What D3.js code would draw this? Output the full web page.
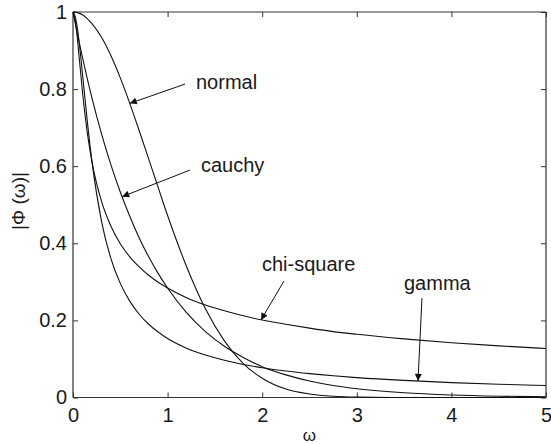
<!DOCTYPE html>
<html>
<head>
<meta charset="utf-8">
<script src="https://cdn.jsdelivr.net/npm/d3@7"></script>
<style>
  html, body { margin: 0; padding: 0; background: #fff; }
  svg { display: block; }
  text { font-family: "Liberation Sans", Arial, Helvetica, sans-serif; fill: #1a1a1a; }
</style>
</head>
<body>
<svg id="chart" width="551" height="444"></svg>
<script>
// Frequency grid ω
const omega = [0, 0.025, 0.05, 0.1, 0.15, 0.2, 0.3, 0.4, 0.5, 0.6, 0.7, 0.8, 0.9, 1.0,
               1.2, 1.4, 1.6, 1.8, 2.0, 2.25, 2.5, 2.75, 3.0, 3.5, 4.0, 4.5, 5.0];

// |Φ(ω)| for each distribution, sampled on the grid above
const normal    = [1, 1.000, 0.998, 0.993, 0.983, 0.970, 0.935, 0.887, 0.829, 0.763, 0.692, 0.619, 0.545, 0.472,
                   0.340, 0.230, 0.147, 0.088, 0.050, 0.022, 0.0092, 0.0034, 0.0012, 0.0001, 0, 0, 0];
const cauchy    = [1, 0.969, 0.939, 0.882, 0.828, 0.777, 0.685, 0.604, 0.533, 0.470, 0.414, 0.365, 0.322, 0.284,
                   0.220, 0.171, 0.133, 0.104, 0.080, 0.0587, 0.0429, 0.0313, 0.0228, 0.0122, 0.0065, 0.0034, 0.0018];
const chiSquare = [1, 0.977, 0.922, 0.793, 0.689, 0.612, 0.510, 0.445, 0.399, 0.365, 0.339, 0.317, 0.299, 0.284,
                   0.259, 0.240, 0.225, 0.212, 0.201, 0.190, 0.180, 0.171, 0.164, 0.152, 0.142, 0.134, 0.127];
const gamma     = [1, 0.987, 0.952, 0.840, 0.719, 0.613, 0.459, 0.361, 0.296, 0.250, 0.216, 0.190, 0.170, 0.153,
                   0.128, 0.110, 0.0964, 0.0858, 0.0773, 0.0687, 0.0619, 0.0563, 0.0516, 0.0443, 0.0387, 0.0344, 0.0310];

const xTicks = [0, 1, 2, 3, 4, 5];
const xTickLabels = ["0", "1", "2", "3", "4", "5"];
const yTicks = [0, 0.2, 0.4, 0.6, 0.8, 1];
const yTickLabels = ["0", "0.2", "0.4", "0.6", "0.8", "1"];

// Callout labels: text anchor, arrow tail and arrow tip, in (ω, |Φ|) units
const labelNames = ["normal", "cauchy", "chi-square", "gamma"];
const labelAt    = [[1.30, 0.80], [1.353, 0.585], [1.998, 0.328], [3.499, 0.279]];
const arrowFrom  = [[1.184, 0.813], [1.237, 0.590], [2.230, 0.302], [3.689, 0.258]];
const arrowTo    = [[0.60, 0.763], [0.52, 0.521], [1.987, 0.201], [3.647, 0.043]];

const svg = d3.select("#chart");
const W = 551, H = 444;
const plotL = 73, plotR = 546, plotT = 12, plotB = 397.5;

svg.append("rect").attr("width", W).attr("height", H).attr("fill", "#fff");

const x = d3.scaleLinear().domain([0, 5]).range([plotL, plotR]);
const y = d3.scaleLinear().domain([0, 1]).range([plotB, plotT]);

const axisColor = "#333";
const fontSize = 20;

// Axes with inward ticks on all four sides (boxed frame)
const tickLen = 5;
const bottomAxis = d3.axisBottom(x).tickValues(xTicks).tickSize(-tickLen).tickPadding(10)
  .tickFormat((d, i) => xTickLabels[i]);
const leftAxis = d3.axisLeft(y).tickValues(yTicks).tickSize(-tickLen).tickPadding(6)
  .tickFormat((d, i) => yTickLabels[i]);
const topAxis = d3.axisTop(x).tickValues(xTicks).tickSize(-tickLen).tickFormat("");
const rightAxis = d3.axisRight(y).tickValues(yTicks).tickSize(-tickLen).tickFormat("");

function styleAxis(g) {
  g.selectAll("path.domain").attr("stroke", axisColor).attr("stroke-width", 1.2);
  g.selectAll(".tick line").attr("stroke", axisColor).attr("stroke-width", 1);
  g.selectAll(".tick text").attr("font-size", fontSize)
    .attr("font-family", "'Liberation Sans', Arial, sans-serif").attr("fill", "#1a1a1a");
}

svg.append("g").attr("transform", `translate(0,${plotB})`).call(bottomAxis).call(styleAxis)
  .call(g => g.selectAll("path.domain").attr("d", `M${plotL},0H${plotR}`));
svg.append("g").attr("transform", `translate(${plotL},0)`).call(leftAxis).call(styleAxis)
  .call(g => g.selectAll("path.domain").attr("d", `M0,${plotB}V${plotT}`));
svg.append("g").attr("transform", `translate(0,${plotT})`).call(topAxis).call(styleAxis)
  .call(g => g.selectAll("path.domain").attr("d", `M${plotL},0H${plotR}`));
svg.append("g").attr("transform", `translate(${plotR},0)`).call(rightAxis).call(styleAxis)
  .call(g => g.selectAll("path.domain").attr("d", `M0,${plotB}V${plotT}`));

// Curves
const series = [normal, cauchy, chiSquare, gamma];
const line = d3.line()
  .x(d => x(d[0]))
  .y(d => y(d[1]))
  .curve(d3.curveMonotoneX);

const plot = svg.append("g");
series.forEach(vals => {
  plot.append("path")
    .datum(omega.map((w, i) => [w, vals[i]]))
    .attr("d", line)
    .attr("fill", "none")
    .attr("stroke", "#111")
    .attr("stroke-width", 1.1);
});

// Arrowhead
svg.append("defs").append("marker")
  .attr("id", "arrowhead")
  .attr("viewBox", "0 0 10 10")
  .attr("refX", 10).attr("refY", 5)
  .attr("markerWidth", 11).attr("markerHeight", 7)
  .attr("markerUnits", "userSpaceOnUse")
  .attr("orient", "auto")
  .append("path")
  .attr("d", "M0,0L10,5L0,10Z")
  .attr("fill", "#111");

// Callouts
labelNames.forEach((name, i) => {
  svg.append("line")
    .attr("x1", x(arrowFrom[i][0])).attr("y1", y(arrowFrom[i][1]))
    .attr("x2", x(arrowTo[i][0])).attr("y2", y(arrowTo[i][1]))
    .attr("stroke", "#111").attr("stroke-width", 1)
    .attr("marker-end", "url(#arrowhead)");
  svg.append("text")
    .attr("x", x(labelAt[i][0])).attr("y", y(labelAt[i][1]))
    .attr("font-size", fontSize)
    .text(name);
});

// Axis titles
svg.append("text")
  .attr("transform", "translate(25,201) rotate(-90)")
  .attr("text-anchor", "middle")
  .attr("font-size", 19)
  .text("|Φ (ω)|");

svg.append("text")
  .attr("x", x(2.5)).attr("y", 441)
  .attr("text-anchor", "middle")
  .attr("font-size", 17)
  .text("ω");
</script>
</body>
</html>
